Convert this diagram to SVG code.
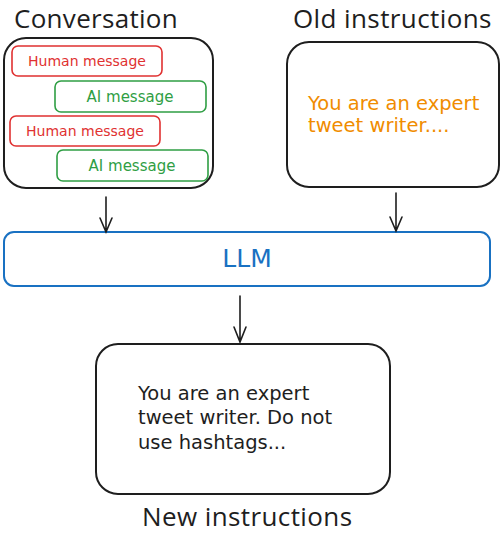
<svg xmlns="http://www.w3.org/2000/svg" width="502" height="534" viewBox="0 0 502 534">
<style>
.title{font-family:"Open Sans","Noto Sans",sans-serif;font-size:26px;fill:#1e1e1e}
.hand{font-family:"DejaVu Sans",sans-serif}
.box{fill:#fff;stroke:#1e1e1e;stroke-width:2}
.hm{fill:#fff;stroke:#e03131;stroke-width:1.6}
.am{fill:#fff;stroke:#2f9e44;stroke-width:1.6}
.conn{stroke:#1e1e1e;stroke-width:1.6;fill:none;stroke-linecap:round}
</style>
<rect width="502" height="534" fill="#fff"/>
<g id="conversation">
<text class="title" x="14" y="28" letter-spacing="0.3">Conversation</text>
<rect class="box" x="4" y="38" width="209" height="150" rx="22"/>
</g>
<g id="human1">
<rect class="hm" x="12" y="46" width="150" height="30" rx="6"/>
<text class="hand" x="87" y="66" font-size="14" fill="#e03131" text-anchor="middle">Human message</text>
</g>
<g id="ai1">
<rect class="am" x="55" y="81" width="151" height="31" rx="6"/>
<text class="hand" x="130" y="102" font-size="15" fill="#2f9e44" text-anchor="middle">AI message</text>
</g>
<g id="human2">
<rect class="hm" x="10" y="116" width="150" height="30" rx="6"/>
<text class="hand" x="85" y="136" font-size="14" fill="#e03131" text-anchor="middle">Human message</text>
</g>
<g id="ai2">
<rect class="am" x="57" y="150" width="151" height="31" rx="6"/>
<text class="hand" x="132" y="171" font-size="15" fill="#2f9e44" text-anchor="middle">AI message</text>
</g>
<g id="old">
<text class="title" x="293" y="28" letter-spacing="0.4">Old instructions</text>
<rect class="box" x="287" y="42" width="212" height="145" rx="22"/>
<text class="hand" font-size="19.5" fill="#f08c00"><tspan x="308" y="110">You are an expert</tspan><tspan x="308" y="132">tweet writer....</tspan></text>
</g>
<g id="llm">
<rect x="4" y="232" width="486" height="54" rx="10" fill="#fff" stroke="#1971c2" stroke-width="2"/>
<text class="hand" x="247" y="267" font-size="25" fill="#1971c2" text-anchor="middle">LLM</text>
</g>
<g id="new">
<rect class="box" x="96" y="344" width="294" height="150" rx="22"/>
<text class="hand" font-size="19.5" fill="#1e1e1e"><tspan x="138" y="400">You are an expert</tspan><tspan x="138" y="424">tweet writer. Do not</tspan><tspan x="138" y="449">use hashtags...</tspan></text>
<text class="title" x="142" y="526" letter-spacing="0.4">New instructions</text>
</g>
<g id="connectors">
<path class="conn" d="M106 197 L106 232 M100 218 L106 232 L112 218"/>
<path class="conn" d="M396 193 L396 231 M390 217 L396 231 L402 217"/>
<path class="conn" d="M240 296 L240 342 M234 327 L240 342 L246 327"/>
</g>
</svg>
